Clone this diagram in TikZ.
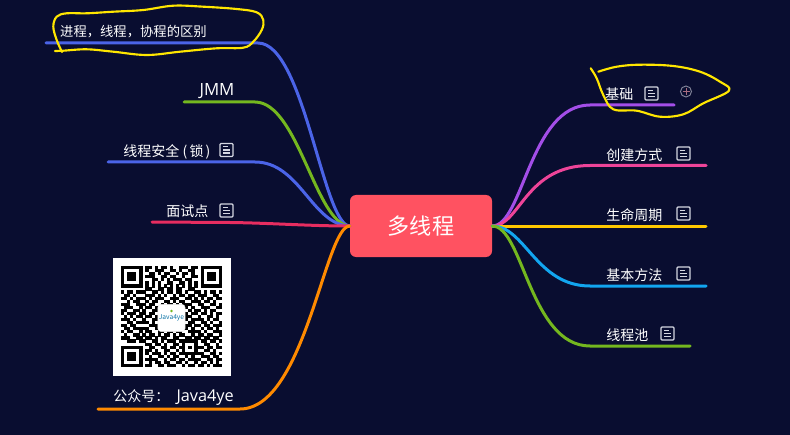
\documentclass[tikz,border=0pt]{standalone}
\usepackage{fontspec}
\setmainfont{Noto Sans CJK SC}
\newfontfamily\latinfont{Open Sans}
\definecolor{bgc}{HTML}{090D30}
\definecolor{rootc}{HTML}{FF5261}
\definecolor{bluec}{HTML}{4B64E8}
\definecolor{greenc}{HTML}{74B71F}
\definecolor{redc}{HTML}{E72D60}
\definecolor{orangec}{HTML}{FF8A00}
\definecolor{purplec}{HTML}{A34EE8}
\definecolor{pinkc}{HTML}{EE4499}
\definecolor{yellowc}{HTML}{FFC800}
\definecolor{cyanc}{HTML}{12A5EF}
\definecolor{markc}{HTML}{FFE600}
\definecolor{iconc}{HTML}{D5D7E2}
\newcount\qx \newcount\qy
\def\qrscan#1{\ifx#1.\else\if#11\fill[black] ({121+3.06*\the\qx},{266+3.06*\the\qy}) rectangle ++(3.2,3.2);\fi\global\advance\qx by 1 \expandafter\qrscan\fi}
\def\qrow#1{\global\qx=0 \qrscan#1.\global\advance\qy by 1 }
\tikzset{
  branch/.style={line width=2.25pt,line cap=round},
  leaf/.style={text=white,font=\fontsize{10.5}{12}\selectfont,inner sep=0pt},
  scribble/.style={draw=markc,line width=1.6pt,line cap=round,line join=round},
  noteicon/.pic={
    \draw[iconc,line width=.9pt,rounded corners=.8pt] (0,0) rectangle (13,13);
    \draw[iconc,line width=.9pt] (3,3.4) -- (8,3.4) (3,6.5) -- (10,6.5) (3,9.6) -- (10,9.6);
  }
}
\begin{document}
\begin{tikzpicture}[x=0.75pt,y=-0.75pt]
\fill[bgc] (0,0) rectangle (790,435);
\useasboundingbox (0,0) rectangle (790,435);

\node[fill=rootc,rounded corners=4.5pt,minimum width=106.5pt,minimum height=46.5pt,inner sep=0pt,text=white,font=\fontsize{16.6}{18}\selectfont] (root) at (421,226) {\raisebox{-1pt}{多线程}};

% leaf ends
\coordinate (a1) at (46,43);   \coordinate (b1) at (258,43);
\coordinate (a2) at (184,102); \coordinate (b2) at (255,102);
\coordinate (a3) at (108,162); \coordinate (b3) at (255,162);
\coordinate (a4) at (152,222); \coordinate (b4) at (230,222.5);
\coordinate (a5) at (98,409);  \coordinate (b5) at (240,409);
\coordinate (r1) at (674,105); \coordinate (s1) at (590,105);
\coordinate (r2) at (706,165.5); \coordinate (s2) at (590,165.5);
\coordinate (r3) at (706,226); \coordinate (s3) at (590,226);
\coordinate (r4) at (706,286); \coordinate (s4) at (590,286);
\coordinate (r5) at (690,346); \coordinate (s5) at (590,346);

\draw[branch,bluec] (root.west) .. controls (323,225) and (304,43) .. (b1) -- (a1);
\draw[branch,greenc] (root.west) .. controls (316,225) and (298,102) .. (b2) -- (a2);
\draw[branch,bluec] (root.west) .. controls (312,225) and (300,162) .. (b3) -- (a3);
\draw[branch,redc] (root.west) .. controls (310,226) and (270,223) .. (b4) -- (a4);
\draw[branch,orangec] (root.west) .. controls (325,226) and (305,409) .. (b5) -- (a5);
\draw[branch,purplec] (root.east) .. controls (523,226) and (530,105) .. (s1) -- (r1);
\draw[branch,pinkc] (root.east) .. controls (520,226) and (525,165.5) .. (s2) -- (r2);
\draw[branch,yellowc] (root.east) -- (s3) -- (r3);
\draw[branch,cyanc] (root.east) .. controls (525,226) and (536,286) .. (s4) -- (r4);
\draw[branch,greenc] (root.east) .. controls (523,226) and (530,346) .. (s5) -- (r5);

\node[leaf,font=\fontsize{10}{12}\selectfont] (n1) at (133.5,31.5) {进程，线程，协程的区别};
\node[leaf,font=\latinfont\fontsize{12.6}{14}\selectfont] (n2) at (217,91.5) {JMM};
\node[leaf,anchor=west] (n3) at (123,151.5) {线程安全\kern2.6pt(\kern1.6pt 锁\kern1.6pt)};
\node[leaf,anchor=west] (n4) at (166,211.5) {面试点};
\node[leaf,anchor=west] (n5) at (113,397.5) {公众号：\kern5.5pt{\latinfont\fontsize{12.2}{14}\selectfont Java4ye}};
\node[leaf,anchor=west] (m1) at (605,94.5) {基础};
\node[leaf,anchor=west] (m2) at (606,155.5) {创建方式};
\node[leaf,anchor=west] (m3) at (606,215.5) {生命周期};
\node[leaf,anchor=west] (m4) at (606,275.5) {基本方法};
\node[leaf,anchor=west] (m5) at (606,335.5) {线程池};

\pic at (220,143.5) {noteicon};
\pic at (220,204) {noteicon};
\pic at (645,87) {noteicon};
\pic at (677,147) {noteicon};
\pic at (677,207) {noteicon};
\pic at (677,267) {noteicon};
\pic at (661,327) {noteicon};

% collapsed marker
\draw[draw=iconc!60!bgc,line width=.7pt] (686,91.5) circle (5.5);
\draw[draw=rootc!50!iconc!70!bgc,line width=.6pt] (682.5,91.5) -- (689.5,91.5) (686,88) -- (686,95);

% hand-drawn marks
\draw[scribble] plot[smooth,tension=.6] coordinates {(62,52) (56.7,40) (53.3,26.7) (56.7,16.7) (66.7,13.3) (86.7,13.3) (113.3,11.7) (143.3,10) (173.3,5.7) (203.3,6.7) (236.7,9) (256.7,12.3) (263.3,20) (261.7,30) (253.3,41.7) (243.3,47.7) (216.7,48.3) (180,51.7) (146.7,55) (113.3,51.7) (86.7,49.3) (63.3,50.7) (55,51)};
\draw[scribble] plot[smooth,tension=.6] coordinates {(590.7,68.3) (596.7,78.3) (603.3,95) (613.3,109.3) (636.7,110.7) (660,116.7) (683.3,114.3) (703.3,103.3) (729,90.7) (720,81.7) (700,71.7) (673.3,66) (640,64.7) (616.7,66.7) (598.3,71.7)};

% QR code
\fill[white] (113,258) rectangle (231,376);
\global\qy=0
\qrow{1111111 0 11010110100111011 0 1111111}
\qrow{1000001 0 10011100110100110 0 1000001}
\qrow{1011101 0 01101011001011010 0 1011101}
\qrow{1011101 0 11100110110010011 0 1011101}
\qrow{1011101 0 00110101011101100 0 1011101}
\qrow{1000001 0 10101001100110101 0 1000001}
\qrow{1111111 0 10101010101010101 0 1111111}
\qrow{0000000 0 11001101101100110 0 0000000}
\qrow{1011011 1 00110101101101001 1 0101101}
\qrow{0110100 0 11101010010110110 1 1100110}
\qrow{1101011 1 01011100111001101 0 1011011}
\qrow{0010110 0 10110011010110011 1 0110100}
\qrow{1110011 1 01100101101011100 1 1001101}
\qrow{0111001 0 11010000000011010 0 1110011}
\qrow{1100110 1 00110000000010101 1 0101100}
\qrow{1011101 1 01100000000011011 0 1101011}
\qrow{0101011 0 11010000000001100 1 0011010}
\qrow{1110100 1 00110000000011011 1 1010110}
\qrow{0011011 1 10100000000010110 0 1101001}
\qrow{1101100 0 01110000000001101 1 0110111}
\qrow{0110111 1 10010000000011010 0 1011010}
\qrow{1011001 0 11001101101100111 1 0100111}
\qrow{0100110 1 01101011010110010 1 1011001}
\qrow{1110011 0 11010110011001101 1 0110110}
\qrow{0011101 1 00110101110111111 0 1101101}
\qrow{0000000 0 11011010011010001 0 0110010}
\qrow{1111111 0 01100110110110101 1 1011011}
\qrow{1000001 0 11010011001010001 0 0110100}
\qrow{1011101 0 10111010110111111 1 1001101}
\qrow{1011101 0 01001101011001010 0 1110110}
\qrow{1011101 0 11110010110110111 1 0011011}
\qrow{1000001 0 01011011001101001 0 1101010}
\qrow{1111111 0 11001101110010110 1 1010111}
\node[fill=white,draw=black!12,line width=.3pt,rounded corners=2.5pt,minimum width=20.5pt,minimum height=20.5pt,inner sep=0pt,text=cyanc!70!black,font=\fontsize{5}{6}\selectfont] (logo) at (171.5,318) {Java4ye};
\fill[greenc] (logo.center) ++(0,-7) circle (1.4);
\end{tikzpicture}
\end{document}
